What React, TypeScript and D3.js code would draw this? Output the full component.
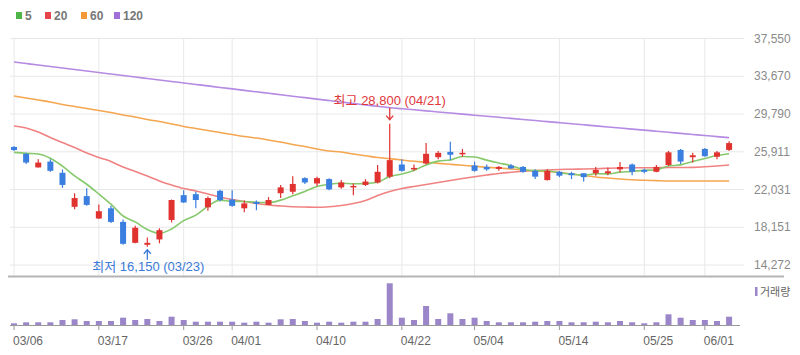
import React from "react";
import * as d3 from "d3";

const dates = ["03/06","03/09","03/10","03/11","03/12","03/13","03/16","03/17","03/18","03/19","03/20","03/23","03/24","03/25","03/26","03/27","03/30","03/31","04/01","04/02","04/03","04/06","04/07","04/08","04/09","04/10","04/13","04/14","04/16","04/17","04/20","04/21","04/22","04/23","04/24","04/27","04/28","04/29","05/04","05/06","05/07","05/08","05/11","05/12","05/13","05/14","05/15","05/18","05/19","05/20","05/21","05/22","05/25","05/26","05/27","05/28","05/29","06/01","06/02","06/03"];
const opens = [26400,25700,24300,24900,23750,20250,21350,19050,20100,18700,16550,16350,16900,18900,21450,21550,20200,21900,21000,20100,20750,20450,21650,21800,23200,22650,23100,22250,22250,22500,22750,23350,24600,24100,24700,25350,25900,25650,24500,24350,24150,24500,24350,23950,23000,23850,23700,23700,23700,23700,24100,24600,24050,23850,24550,26100,25350,26200,25400,26100];
const highs = [26500,25800,25150,25150,24100,21650,22150,20500,20350,18950,18300,17100,18050,21000,21950,21800,21300,22000,21950,20900,20900,21250,22500,23400,23300,23350,23200,23000,22650,23100,24550,28800,25150,24600,26800,26000,26950,26200,24900,24600,24450,24650,24450,24100,24100,23950,23850,23700,24350,24300,24850,24700,24200,24550,26000,26200,25800,26300,26000,27000];
const lows = [25990,24650,24300,23850,22200,20000,20350,19000,18600,16350,16500,16150,16500,18650,20650,20100,19850,20800,20250,19700,19900,20450,21150,21550,22600,22400,21950,22100,21450,22400,22650,23200,23850,23950,24600,25150,25050,25400,23850,23950,23950,24150,23750,23100,22950,23300,23100,22850,23450,23500,23800,23500,23700,23800,24450,24650,24800,25400,25150,26000];
const closes = [26090,24800,24800,23950,22500,21150,20450,19800,18700,16450,18100,16550,17850,20950,20700,20950,21150,20950,20350,20600,20550,20950,22250,22600,22750,23200,22050,22750,22400,22850,23850,25050,23950,24250,25700,25800,25600,25800,23950,24100,24350,24200,23850,23350,23950,23450,23500,23300,24050,23900,24350,23850,23850,24350,25850,24900,25550,25450,25850,26800];
const volumes = [170,270,270,270,500,570,400,400,400,730,500,600,400,830,500,330,330,330,330,230,330,230,570,600,400,230,330,230,330,330,600,4170,730,500,1900,600,1170,600,730,400,270,270,270,330,400,400,270,270,330,270,400,270,170,270,1070,730,500,500,400,830];

const ma5 = [25850,25750,25680,25240,24430,23440,22570,21570,20520,19310,18700,17920,17530,17980,18830,19400,20320,20940,20820,20800,20720,20680,20940,21390,21820,22350,22570,22670,22630,22650,22780,23380,23620,23990,24560,24950,25060,25430,25370,25050,24760,24480,24090,23970,23940,23760,23620,23510,23650,23640,23820,23890,24000,24060,24450,24560,24900,25220,25520,25710];
const ma20 = [28560,28350,27940,27380,26860,26350,25780,25320,24910,24340,23880,23420,22910,22490,22130,21880,21570,21260,21000,20800,20590,20440,20340,20260,20230,20200,20260,20390,20590,20900,21410,21830,22130,22340,22550,22750,22960,23160,23350,23520,23680,23800,23900,23980,24040,24090,24120,24140,24170,24210,24240,24260,24270,24270,24290,24290,24310,24370,24450,24550];
const ma60 = [31640,31440,31230,31020,30770,30560,30360,30150,29950,29690,29480,29230,29020,28760,28510,28300,28100,27890,27680,27480,27320,27120,26910,26660,26450,26190,25990,25880,25680,25500,25320,25200,25060,24930,24830,24720,24620,24520,24420,24320,24240,24140,24040,23950,23880,23780,23620,23470,23320,23210,23110,23030,22980,22940,22900,22900,22900,22900,22900,22900];
const ma120 = [35130,34980,34830,34670,34520,34360,34210,34050,33900,33750,33590,33440,33290,33130,32980,32830,32680,32520,32370,32220,32070,31920,31770,31620,31470,31320,31170,31020,30870,30720,30580,30440,30330,30220,30110,30000,29890,29780,29670,29560,29450,29340,29230,29120,29010,28900,28790,28680,28570,28460,28350,28240,28130,28020,27910,27800,27690,27580,27470,27360];

const priceTicks = [37550, 33670, 29790, 25911, 22031, 18151, 14272];
const dateTicks = ["03/06","03/17","03/26","04/01","04/10","04/22","05/04","05/14","05/25","06/01"];

const legendItems = [
  { label: "5", color: "#4fb548" },
  { label: "20", color: "#e6444a" },
  { label: "60", color: "#f39a36" },
  { label: "120", color: "#a06fd8" },
];
const maLines = [
  { values: ma120, color: "#b58ae2" },
  { values: ma60, color: "#f5a650" },
  { values: ma20, color: "#f08282" },
  { values: ma5, color: "#86c96c" },
];

const UP = "#e0322f";
const DOWN = "#3a7ee0";
const FONT = "'Liberation Sans', Arial, 'Noto Sans CJK KR', sans-serif";

export default function App() {
  const W = 800, H = 355;
  const x = d3.scalePoint<string>().domain(dates).range([14, 729.1]);
  const y = d3.scaleLinear().domain([14272, 37550]).range([265, 38.5]);
  const vMax = d3.max(volumes) as number;
  const yv = d3.scaleLinear().domain([0, vMax]).range([325, 283.3]);
  const bodyW = 6;
  const line = d3.line<number>()
    .x((_, i) => x(dates[i]) as number)
    .y((d) => y(d))
    .curve(d3.curveMonotoneX);

  const hiIdx = highs.indexOf(d3.max(highs) as number);
  const loIdx = lows.indexOf(d3.min(lows) as number);
  const hx = x(dates[hiIdx]) as number;
  const hy = y(highs[hiIdx]);
  const lx = x(dates[loIdx]) as number;
  const ly = y(lows[loIdx]);
  const fmt = d3.format(",");

  return (
    <svg width={W} height={H} style={{ position: "absolute", left: 0, top: 0, background: "#fff" }} fontFamily={FONT}>
      {/* legend */}
      {legendItems.map((it, i) => {
        const lxs = [16, 45, 81, 114][i];
        return (
          <g key={it.label}>
            <rect x={lxs} y={12} width={6} height={7} fill={it.color} />
            <text x={lxs + 9} y={19.5} fontSize={12} fontWeight="bold" fill="#777">{it.label}</text>
          </g>
        );
      })}
      {/* horizontal grid */}
      {priceTicks.map((t) => (
        <line key={t} x1={10} x2={744} y1={y(t)} y2={y(t)} stroke="#e8e8e8" strokeWidth={1} />
      ))}
      {/* vertical grid */}
      {dateTicks.map((d) => (
        <line key={d} x1={x(d)} x2={x(d)} y1={38.5} y2={276} stroke="#e8e8e8" strokeWidth={1} />
      ))}
      {/* price labels */}
      {priceTicks.map((t) => (
        <text key={t} x={754} y={y(t) + 4} fontSize={12} fill="#8a8a8a">{fmt(t)}</text>
      ))}
      {/* MA lines */}
      {maLines.map((m, i) => (
        <path key={i} d={line(m.values) || ""} fill="none" stroke={m.color} strokeWidth={1.6} />
      ))}
      {/* candles */}
      {dates.map((d, i) => {
        const cx = x(d) as number;
        const up = closes[i] >= opens[i];
        const col = up ? UP : DOWN;
        const top = y(Math.max(opens[i], closes[i]));
        const bot = y(Math.min(opens[i], closes[i]));
        const h = Math.max(1.5, bot - top);
        return (
          <g key={d}>
            <line x1={cx} x2={cx} y1={y(highs[i])} y2={y(lows[i])} stroke={col} strokeWidth={1.2} />
            <rect x={cx - bodyW / 2} y={top} width={bodyW} height={h} fill={col} />
          </g>
        );
      })}
      {/* high annotation */}
      <text x={hx + 56} y={105} fontSize={13} fill="#e0383a" textAnchor="end">{`최고 ${fmt(highs[hiIdx])} (${dates[hiIdx]})`}</text>
      <line x1={hx} x2={hx} y1={hy - 16} y2={hy - 4} stroke="#e0383a" strokeWidth={1.3} />
      <polyline points={`${hx - 3.5},${hy - 8} ${hx},${hy - 4} ${hx + 3.5},${hy - 8}`} fill="none" stroke="#e0383a" strokeWidth={1.3} />
      {/* low annotation */}
      <line x1={lx} x2={lx} y1={ly + 3} y2={ly + 13} stroke="#3a7ad8" strokeWidth={1.3} />
      <polyline points={`${lx - 3.5},${ly + 7} ${lx},${ly + 3} ${lx + 3.5},${ly + 7}`} fill="none" stroke="#3a7ad8" strokeWidth={1.3} />
      <text x={lx - 55} y={271} fontSize={13} fill="#3a7ad8">{`최저 ${fmt(lows[loIdx])} (${dates[loIdx]})`}</text>
      {/* separator */}
      <line x1={8} x2={784} y1={276.5} y2={276.5} stroke="#b5b5b5" strokeWidth={2} />
      {/* volume legend */}
      <rect x={755} y={287} width={2.5} height={9} fill="#9a86c8" />
      <text x={760} y={296} fontSize={11} fill="#666">거래량</text>
      {/* volume bars */}
      {dates.map((d, i) => (
        <rect key={d} x={(x(d) as number) - 3} y={yv(volumes[i])} width={6} height={325 - yv(volumes[i])} fill="#9a86c8" />
      ))}
      <line x1={10} x2={740} y1={325.5} y2={325.5} stroke="#999" strokeWidth={1.2} />
      {dateTicks.map((d) => (
        <g key={d}>
          <line x1={x(d)} x2={x(d)} y1={325} y2={330} stroke="#999" strokeWidth={1} />
          <text x={(x(d) as number) - 1} y={345} fontSize={12} fill="#666">{d}</text>
        </g>
      ))}
    </svg>
  );
}
